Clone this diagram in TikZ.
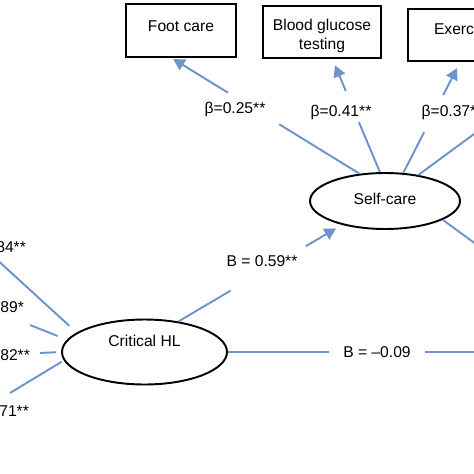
\documentclass[tikz,border=0pt]{standalone}
\usepackage{fontspec}
\setmainfont{Liberation Sans}
\usetikzlibrary{arrows.meta,shapes.geometric}
\definecolor{pathblue}{HTML}{6E93CA}
\tikzset{
  box/.style={draw=black,line width=1.1pt,rectangle,align=center,inner sep=0pt},
  latent/.style={draw=black,line width=1.1pt,ellipse,inner sep=0pt},
  link/.style={draw=pathblue,line width=1.1pt},
  arr/.style={link,-{Triangle[length=6.5pt,width=7pt]}},
  coef/.style={inner sep=1pt}
}
\begin{document}
\begin{tikzpicture}[x=0.02cm,y=-0.02cm,font=\fontsize{8.9}{10.8}\selectfont]
  \useasboundingbox (0,0) rectangle (474,474);
  \clip (0,0) rectangle (474,474);
  % Indicators of self-care
  \node[box,minimum width=2.2cm,minimum height=1.06cm,text height=6pt,text depth=5.4pt] (foot) at (181,30.5) {Foot care};
  \node[box,minimum width=2.36cm,minimum height=1.04cm,text height=20.4pt,text depth=0pt] (blood) at (322,32)
    {\begin{tabular}[b]{@{}c@{}}Blood glucose\\testing\end{tabular}};
  \node[box,minimum width=2.24cm,minimum height=1.04cm,text height=5.4pt,text depth=6.5pt] (exer) at (464,35) {Exercise};
  % Latent variables
  \node[latent,minimum width=3cm,minimum height=1.12cm,text height=7pt,text depth=2.5pt] (self) at (385,201) {Self-care};
  \node[latent,minimum width=3.3cm,minimum height=1.3cm,text height=3pt,text depth=8.7pt] (crit) at (144.5,352) {Critical HL};
  % Ends outside the picture
  \coordinate (i1) at (-30,235);
  \coordinate (i2) at (30,325);
  \coordinate (i3) at (40,353);
  \coordinate (i4) at (10,393);
  \coordinate (rt) at (520,352);
  \coordinate (ur) at (530,93);
  \coordinate (lr) at (503,264);
  % Self-care paths
  \draw[link,shorten >=2.53cm] (self.133) -- (foot.251);
  \draw[arr,shorten <=3.09cm,shorten >=0.04cm] (self.133) -- (foot.251);
  \draw[link,shorten >=1.37cm] (self.100) -- (blood.291);
  \draw[arr,shorten <=1.76cm,shorten >=0.14cm] (self.100) -- (blood.291);
  \draw[link,shorten >=1.58cm] (self.57) -- (exer.262);
  \draw[arr,shorten <=1.75cm,shorten >=0.14cm] (self.57) -- (exer.262);
  \draw[link] (self.38) -- (ur);
  \draw[link] (self.-18) -- (lr);
  \node[coef] (b25) at (235,109) {β=0.25**};
  \node[coef] (b41) at (341,112) {β=0.41**};
  \node[coef] (b37) at (452,112) {β=0.37**};
  % Critical HL paths
  \draw[link,shorten >=2.59cm] (crit.42) -- (self.209);
  \draw[arr,shorten <=2.96cm,shorten >=0.14cm] (crit.42) -- (self.209);
  \node[coef] (b59) at (262,261) {B = 0.59**};
  \node[coef,inner xsep=0.27cm] (b09) at (377,352) {B = –0.09};
  \draw[link] (crit.east) -- (b09.west);
  \draw[link] (b09.east) -- (rt);
  % Indicators of critical HL
  \draw[link,shorten <=0.2cm] (crit.164) -- (i1);
  \draw[link,shorten <=0.2cm] (crit.171) -- (i2);
  \draw[link,shorten <=0.1cm] (crit.180) -- (i3);
  \draw[link,shorten <=0.05cm] (crit.186) -- (i4);
  \node[coef,anchor=east] (c84) at (28,248) {β=0.84**};
  \node[coef,anchor=east] (c89) at (26,308) {β=0.89*};
  \node[coef,anchor=east] (c82) at (32,356) {β=0.82**};
  \node[coef,anchor=east] (c71) at (31,412) {β=0.71**};
\end{tikzpicture}
\end{document}
